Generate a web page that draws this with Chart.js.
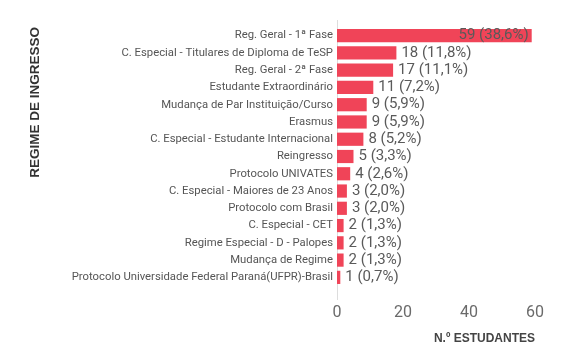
<!DOCTYPE html>
<html>
<head>
<meta charset="utf-8">
<script src="https://cdn.jsdelivr.net/npm/chart.js@4"></script>
<style>
  html, body { margin: 0; padding: 0; background: #fff; }
  #wrap { width: 570px; height: 360px; }
</style>
</head>
<body>
<div id="wrap"><canvas id="myChart" width="570" height="360"></canvas></div>
<script>
let regimes = [
  "Reg. Geral - 1ª Fase",
  "C. Especial - Titulares de Diploma de TeSP",
  "Reg. Geral - 2ª Fase",
  "Estudante Extraordinário",
  "Mudança de Par Instituição/Curso",
  "Erasmus",
  "C. Especial - Estudante Internacional",
  "Reingresso",
  "Protocolo UNIVATES",
  "C. Especial - Maiores de 23 Anos",
  "Protocolo com Brasil",
  "C. Especial - CET",
  "Regime Especial - D - Palopes",
  "Mudança de Regime",
  "Protocolo Universidade Federal Paraná(UFPR)-Brasil"
];
let estudantes = [59, 18, 17, 11, 9, 9, 8, 5, 4, 3, 3, 2, 2, 2, 1];
let x_ticks = [0, 20, 40, 60];

let total = 0;
estudantes.forEach(v => { total += v; });

// y axis line, a bit longer than the plot area like in the original
const axisLine = {
  id: "axisLine",
  beforeDatasetsDraw(chart) {
    const ctx = chart.ctx;
    const x = Math.round(chart.scales.x.getPixelForValue(0)) + 0.5;
    ctx.save();
    ctx.strokeStyle = "#ddd";
    ctx.lineWidth = 1;
    ctx.beginPath();
    ctx.moveTo(x, chart.chartArea.top - 7);
    ctx.lineTo(x, chart.chartArea.bottom + 14);
    ctx.stroke();
    ctx.restore();
  }
};

// value + percentage, inside the bar when it fits, otherwise after it
const barLabels = {
  id: "barLabels",
  afterDatasetsDraw(chart) {
    const ctx = chart.ctx;
    const meta = chart.getDatasetMeta(0);
    ctx.save();
    ctx.font = "15px Roboto";
    ctx.textBaseline = "middle";
    meta.data.forEach((bar, i) => {
      const v = estudantes[i];
      const txt = v + " (" + (v / total * 100).toFixed(1).replace(".", ",") + "%)";
      const w = ctx.measureText(txt).width;
      const len = bar.x - bar.base;
      ctx.fillStyle = "#5a5a5a";
      if (len > w + 10) {
        ctx.textAlign = "right";
        ctx.fillText(txt, bar.x - 3, bar.y);
      } else {
        ctx.textAlign = "left";
        ctx.fillText(txt, bar.x + 5, bar.y);
      }
    });
    ctx.restore();
  }
};

new Chart("myChart", {
  type: "bar",
  data: {
    labels: regimes,
    datasets: [{
      data: estudantes,
      backgroundColor: "#f04458",
      barPercentage: 0.85,
      categoryPercentage: 0.9
    }]
  },
  options: {
    indexAxis: "y",
    responsive: false,
    animation: false,
    layout: { padding: { left: 27, right: 35, top: 27, bottom: 14 } },
    plugins: {
      legend: { display: false },
      tooltip: { enabled: false }
    },
    scales: {
      x: {
        min: 0,
        max: 60,
        afterBuildTicks: (axis) => { axis.ticks = x_ticks.map(v => ({ value: v })); },
        afterFit: (axis) => { axis.height = 60; },
        grid: { display: false, drawTicks: false },
        border: { display: false },
        ticks: { color: "#6a6a6a", font: { family: "Roboto", size: 16 }, padding: 17 },
        title: {
          display: true,
          text: "N.º ESTUDANTES",
          align: "end",
          color: "#444",
          font: { family: "Liberation Sans", size: 12, weight: "bold" },
          padding: { top: 0, bottom: 0 }
        }
      },
      y: {
        afterFit: (axis) => { axis.width = 310; },
        grid: { display: false, drawTicks: false },
        border: { display: false },
        ticks: { color: "#555", font: { family: "Roboto", size: 11.3 }, padding: 4, autoSkip: false },
        title: {
          display: true,
          text: "REGIME DE INGRESSO",
          align: "end",
          color: "#333",
          font: { family: "Liberation Sans", size: 13.5, weight: "bold" },
          padding: { top: 0, bottom: 0 }
        }
      }
    }
  },
  plugins: [axisLine, barLabels]
});
</script>
</body>
</html>
